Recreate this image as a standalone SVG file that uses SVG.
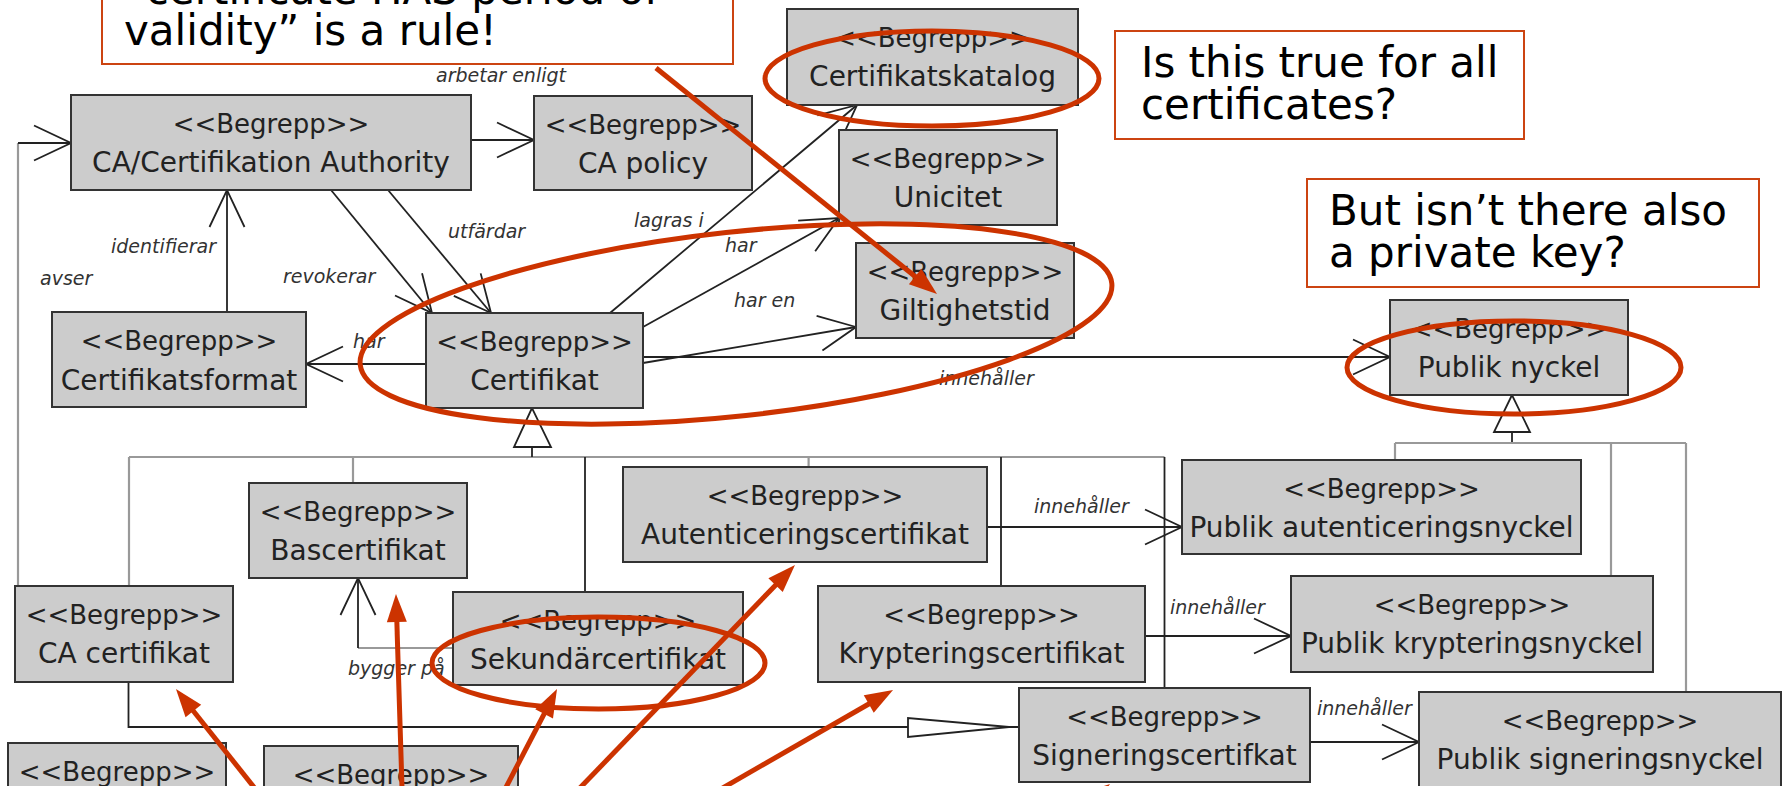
<svg xmlns="http://www.w3.org/2000/svg" width="1782" height="786" viewBox="0 0 1782 786">
<defs>
<style>
.node rect{fill:#cccccc;stroke:#333;stroke-width:2}
.node text{font-family:"DejaVu Sans",sans-serif;fill:#222;text-anchor:middle}
.st{font-size:26px}
.nm{font-size:28px}
.ln{fill:none;stroke:#222;stroke-width:1.8}
.gl{fill:none;stroke:#999;stroke-width:2.2}
.lbl{font-family:"DejaVu Sans",sans-serif;font-style:italic;font-size:19px;fill:#333}
.callout rect{fill:#fff;stroke:#cc4411;stroke-width:2}
.callout text{font-family:"DejaVu Sans",sans-serif;font-size:42px;fill:#000}
.ell{fill:none;stroke:#cc3300;stroke-width:5}
.rarr{fill:none;stroke:#cc3300;stroke-width:5}
.tri{fill:#fff;stroke:#222;stroke-width:1.8}
</style>
<marker id="open" markerUnits="userSpaceOnUse" orient="auto" markerWidth="50" markerHeight="50" viewBox="-45 -25 50 50" refX="0" refY="0" overflow="visible">
<path d="M-37,-17.5 L0,0 L-37,17.5" fill="none" stroke="#222" stroke-width="1.8"/>
</marker>
<marker id="red" markerUnits="userSpaceOnUse" orient="auto" markerWidth="40" markerHeight="30" viewBox="-10 -15 40 30" refX="0" refY="0" overflow="visible">
<path d="M-8,-10 L20,0 L-8,10 Z" fill="#cc3300"/>
</marker>
</defs>
<rect x="0" y="0" width="1782" height="786" fill="#fff"/>

<g id="connectors">
<path class="ln" d="M471,140 L534,140" marker-end="url(#open)"/>
<path class="gl" d="M18,586 L18,143"/>
<path class="ln" d="M18,143 L71,143" marker-end="url(#open)"/>
<path class="ln" d="M227,312 L227,190" marker-end="url(#open)"/>
<path class="ln" d="M331,190 L432,313" marker-end="url(#open)"/>
<path class="ln" d="M388,190 L491,313" marker-end="url(#open)"/>
<path class="ln" d="M426,364 L306,364" marker-end="url(#open)"/>
<path class="ln" d="M610,313 L857,105" marker-end="url(#open)"/>
<path class="ln" d="M643,327 L839,218" marker-end="url(#open)"/>
<path class="ln" d="M643,363 L856,327" marker-end="url(#open)"/>
<path class="ln" d="M643,357 L1390,357" marker-end="url(#open)"/>
<path class="gl" d="M129,457 L1164.5,457"/>
<path class="gl" d="M129,457 L129,586"/>
<path class="gl" d="M353,457 L353,483"/>
<path class="ln" d="M585,457 L585,592"/>
<path class="gl" d="M808.6,457 L808.6,467"/>
<path class="ln" d="M1001,457 L1001,586"/>
<path class="ln" d="M1164.5,457 L1164.5,688"/>
<path class="ln" d="M532,447 L532,457"/>
<polygon class="tri" points="532,408 514,447 551,447"/>
<path class="ln" d="M1512,432 L1512,443"/>
<polygon class="tri" points="1512,395 1494,432 1530,432"/>
<path class="gl" d="M1395,443 L1686,443 M1395,443 L1395,460 M1611,443 L1611,576 M1686,443 L1686,692"/>
<path class="ln" d="M987,527 L1182,527" marker-end="url(#open)"/>
<path class="ln" d="M1145,636 L1291,636" marker-end="url(#open)"/>
<path class="ln" d="M1310,742 L1419,742" marker-end="url(#open)"/>
<path class="ln" d="M128.5,682 L128.5,727 L908,727 M1009,727 L1019,727"/>
<polygon class="tri" points="908,718 908,737 1009,727"/>
<path class="gl" d="M453,648 L358,648"/>
<path class="ln" d="M358,648 L358,578" marker-end="url(#open)"/>
<text class="lbl" x="436" y="82">arbetar enligt</text>
<text class="lbl" x="111" y="253">identifierar</text>
<text class="lbl" x="40" y="285">avser</text>
<text class="lbl" x="283" y="283">revokerar</text>
<text class="lbl" x="448" y="238">utfärdar</text>
<text class="lbl" x="634" y="227">lagras i</text>
<text class="lbl" x="725" y="252">har</text>
<text class="lbl" x="734" y="307">har en</text>
<text class="lbl" x="353" y="348">har</text>
<text class="lbl" x="939" y="385">innehåller</text>
<text class="lbl" x="1034" y="513">innehåller</text>
<text class="lbl" x="1170" y="614">innehåller</text>
<text class="lbl" x="1317" y="715">innehåller</text>
<text class="lbl" x="348" y="675">bygger på</text>
</g>

<g id="n_ca_authority" class="node"><rect x="71" y="95" width="400" height="95"/><text class="st" x="271" y="133">&lt;&lt;Begrepp&gt;&gt;</text><text class="nm" x="271" y="172">CA/Certifikation Authority</text></g>
<g id="n_ca_policy" class="node"><rect x="534" y="96" width="218" height="94"/><text class="st" x="643" y="134">&lt;&lt;Begrepp&gt;&gt;</text><text class="nm" x="643" y="173">CA policy</text></g>
<g id="n_katalog" class="node"><rect x="787" y="9" width="291" height="96"/><text class="st" x="932.5" y="47">&lt;&lt;Begrepp&gt;&gt;</text><text class="nm" x="932.5" y="86">Certifikatskatalog</text></g>
<g id="n_unicitet" class="node"><rect x="839" y="130" width="218" height="95"/><text class="st" x="948" y="168">&lt;&lt;Begrepp&gt;&gt;</text><text class="nm" x="948" y="207">Unicitet</text></g>
<g id="n_giltighet" class="node"><rect x="856" y="243" width="218" height="95"/><text class="st" x="965" y="281">&lt;&lt;Begrepp&gt;&gt;</text><text class="nm" x="965" y="320">Giltighetstid</text></g>
<g id="n_certformat" class="node"><rect x="52" y="312" width="254" height="95"/><text class="st" x="179" y="350">&lt;&lt;Begrepp&gt;&gt;</text><text class="nm" x="179" y="390">Certifikatsformat</text></g>
<g id="n_certifikat" class="node"><rect x="426" y="313" width="217" height="95"/><text class="st" x="534.5" y="351">&lt;&lt;Begrepp&gt;&gt;</text><text class="nm" x="534.5" y="390">Certifikat</text></g>
<g id="n_publik_nyckel" class="node"><rect x="1390" y="300" width="238" height="95"/><text class="st" x="1509" y="338">&lt;&lt;Begrepp&gt;&gt;</text><text class="nm" x="1509" y="377">Publik nyckel</text></g>
<g id="n_bascert" class="node"><rect x="249" y="483" width="218" height="95"/><text class="st" x="358" y="521">&lt;&lt;Begrepp&gt;&gt;</text><text class="nm" x="358" y="560">Bascertifikat</text></g>
<g id="n_autent" class="node"><rect x="623" y="467" width="364" height="95"/><text class="st" x="805" y="505">&lt;&lt;Begrepp&gt;&gt;</text><text class="nm" x="805" y="544">Autenticeringscertifikat</text></g>
<g id="n_pub_autent" class="node"><rect x="1182" y="460" width="399" height="94"/><text class="st" x="1381.5" y="498">&lt;&lt;Begrepp&gt;&gt;</text><text class="nm" x="1381.5" y="537">Publik autenticeringsnyckel</text></g>
<g id="n_ca_cert" class="node"><rect x="15" y="586" width="218" height="96"/><text class="st" x="124" y="624">&lt;&lt;Begrepp&gt;&gt;</text><text class="nm" x="124" y="663">CA certifikat</text></g>
<g id="n_sekundar" class="node"><rect x="453" y="592" width="290" height="93"/><text class="st" x="598" y="630">&lt;&lt;Begrepp&gt;&gt;</text><text class="nm" x="598" y="669">Sekundärcertifikat</text></g>
<g id="n_krypt" class="node"><rect x="818" y="586" width="327" height="96"/><text class="st" x="981.5" y="624">&lt;&lt;Begrepp&gt;&gt;</text><text class="nm" x="981.5" y="663">Krypteringscertifikat</text></g>
<g id="n_pub_krypt" class="node"><rect x="1291" y="576" width="362" height="96"/><text class="st" x="1472" y="614">&lt;&lt;Begrepp&gt;&gt;</text><text class="nm" x="1472" y="653">Publik krypteringsnyckel</text></g>
<g id="n_signering" class="node"><rect x="1019" y="688" width="291" height="94"/><text class="st" x="1164.5" y="726">&lt;&lt;Begrepp&gt;&gt;</text><text class="nm" x="1164.5" y="765">Signeringscertifkat</text></g>
<g id="n_pub_sign" class="node"><rect x="1419" y="692" width="362" height="100"/><text class="st" x="1600" y="730">&lt;&lt;Begrepp&gt;&gt;</text><text class="nm" x="1600" y="769">Publik signeringsnyckel</text></g>
<g id="n_bottom_left" class="node"><rect x="8" y="743" width="218" height="60"/><text class="st" x="117" y="781">&lt;&lt;Begrepp&gt;&gt;</text></g>
<g id="n_bottom_mid" class="node"><rect x="264" y="746" width="254" height="60"/><text class="st" x="391" y="784">&lt;&lt;Begrepp&gt;&gt;</text></g>

<g id="callouts" class="callout">
<g id="callout_rule"><rect x="102" y="-40" width="631" height="104"/><text x="124" y="4">“certificate HAS period of</text><text x="124" y="45">validity” is a rule!</text></g>
<g id="callout_all"><rect x="1115" y="31" width="409" height="108"/><text x="1141" y="77">Is this true for all</text><text x="1141" y="119">certificates?</text></g>
<g id="callout_key"><rect x="1307" y="179" width="452" height="108"/><text x="1329" y="225">But isn’t there also</text><text x="1329" y="267">a private key?</text></g>
</g>

<g id="highlights">
<ellipse class="ell" cx="932" cy="78.5" rx="167" ry="47.5"/>
<ellipse class="ell" cx="736" cy="324" rx="378" ry="92" transform="rotate(-6.2 736 324)"/>
<ellipse class="ell" cx="1514" cy="367.5" rx="167" ry="46.5"/>
<ellipse class="ell" cx="598.5" cy="663" rx="166.5" ry="46"/>
<path class="rarr" d="M656,68 L921.4,281.5" marker-end="url(#red)"/>
<path class="rarr" d="M280,820 L188.4,704.7" marker-end="url(#red)"/>
<path class="rarr" d="M403,820 L396.6,614" marker-end="url(#red)"/>
<path class="rarr" d="M489,820 L547.8,706.8" marker-end="url(#red)"/>
<path class="rarr" d="M549,820 L781.1,579.4" marker-end="url(#red)"/>
<path class="rarr" d="M667,820 L875.7,700" marker-end="url(#red)"/>
<path class="rarr" d="M1050,830 L1094.1,796.2" marker-end="url(#red)"/>
</g>
</svg>
